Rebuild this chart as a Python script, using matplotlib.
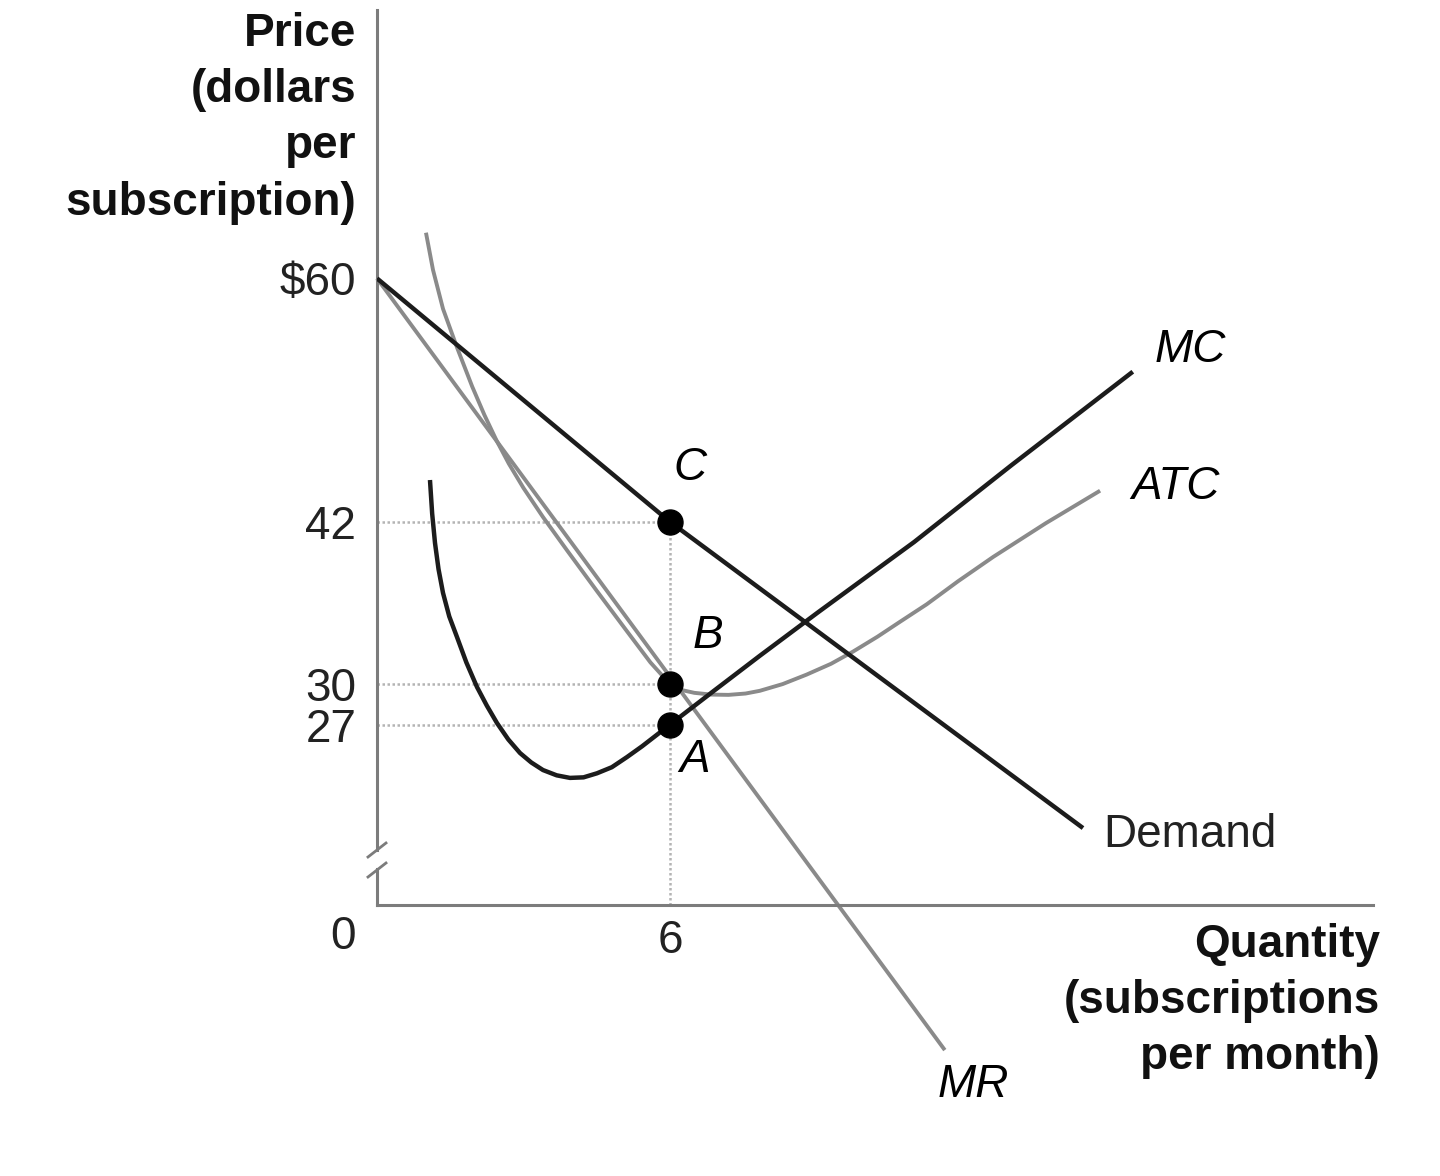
import matplotlib
matplotlib.use("Agg")
import matplotlib.pyplot as plt

W, H = 1440, 1176

# quantity (subscriptions per month) / price (dollars per subscription)
demand_q = [0, 6, 14.46]
demand_p = [60, 42, 19.35]

mr_q = [0, 11.63]
mr_p = [60, 2.93]

mc_q = [1.085, 1.13, 1.188, 1.26, 1.352, 1.48, 1.638, 1.83, 2.048, 2.25, 2.457,
        2.69, 2.929, 3.16, 3.40, 3.68, 3.952, 4.23, 4.505, 4.81, 5.12, 5.43,
        5.734, 6.0, 6.45, 6.9, 7.844, 9.031, 11.0, 13.0, 15.48]
mc_p = [45.09, 42.6, 40.43, 38.5, 36.74, 35.0, 33.48, 31.6, 29.78, 28.4, 27.12,
        25.9, 24.90, 24.2, 23.64, 23.25, 23.06, 23.1, 23.4, 23.85, 24.6, 25.4,
        26.25, 27.0, 28.25, 29.5, 32.1, 35.3, 40.5, 46.2, 53.1]

atc_q = [1.003, 1.147, 1.352, 1.638, 1.95, 2.2, 2.45, 2.7, 3.0, 3.4, 3.9, 4.5,
         5.1, 5.6, 6.0, 6.25, 6.5, 6.85, 7.2, 7.55, 7.84, 8.31, 8.8, 9.3, 9.75,
         10.25, 10.71, 11.26, 11.9, 12.62, 13.7, 14.81]
atc_p = [63.38, 60.63, 57.75, 54.9, 52.0, 49.9, 48.0, 46.3, 44.5, 42.35, 39.85,
         36.9, 34.0, 31.6, 30.0, 29.55, 29.35, 29.22, 29.2, 29.3, 29.5, 30.0,
         30.7, 31.5, 32.4, 33.5, 34.6, 35.9, 37.6, 39.4, 41.9, 44.3]

point_names = ["C", "B", "A"]
point_q = [6, 6, 6]
point_p = [42, 30, 27]

price_ticks = [27, 30, 42, 60]
price_labels = ["27", "30", "42", "$60"]
qty_ticks = [6]
qty_labels = ["6"]

DARK = "#1c1c1c"
GREY = "#8a8a8a"
AXIS = "#7c7c7c"
FONT = "Liberation Sans"
FS = 33

plt.rcParams["font.family"] = FONT


def fx(px):
    return px / W


def fy(py):
    return 1 - py / H


fig = plt.figure(figsize=(W / 100, H / 100), dpi=100)
ax = fig.add_axes([fx(377), fy(905), (1373 - 377) / W, (905 - 10) / H])
ax.set_xlim(0, 20.4)
ax.set_ylim(13.66, 79.85)

# dotted guides to the points
for q, p in zip(point_q, point_p):
    ax.plot([0, q], [p, p], color="#b4b4b4", lw=1.8, ls=(0, (1, 1)), zorder=1)
ax.plot([point_q[0], point_q[0]], [13.66, max(point_p)], color="#b4b4b4",
        lw=1.8, ls=(0, (1, 1)), zorder=1)

# curves
ax.plot(mr_q, mr_p, color=GREY, lw=2.8, clip_on=False, solid_capstyle="butt", zorder=2)
ax.plot(atc_q, atc_p, color=GREY, lw=2.8, solid_capstyle="butt",
        solid_joinstyle="round", zorder=2)
ax.plot(demand_q, demand_p, color=DARK, lw=3.2, solid_capstyle="butt", zorder=3)
ax.plot(mc_q, mc_p, color=DARK, lw=3.2, solid_capstyle="butt",
        solid_joinstyle="round", zorder=3)

ax.plot(point_q, point_p, "o", color="black", ms=18, zorder=4)

# axes and ticks
for s in ["top", "right", "left"]:
    ax.spines[s].set_visible(False)
ax.spines["bottom"].set_color(AXIS)
ax.spines["bottom"].set_linewidth(2.2)

ax.set_yticks(price_ticks)
ax.set_yticklabels(price_labels)
ax.set_xticks(qty_ticks)
ax.set_xticklabels(qty_labels)
ax.tick_params(axis="both", length=0, labelsize=FS, labelcolor="#222222")
ax.tick_params(axis="y", pad=15)
ax.tick_params(axis="x", pad=10)

# y axis with a break near the bottom
ta = ax.transAxes


def ay(py):
    return (905 - py) / 895


def axx(px):
    return (px - 377) / 996


ax.plot([0, 0], [ay(850), 1], color=AXIS, lw=2.2, transform=ta, clip_on=False)
ax.plot([0, 0], [0, ay(869)], color=AXIS, lw=2.2, transform=ta, clip_on=False)
ax.plot([axx(368), axx(386)], [ay(857), ay(843)], color=AXIS, lw=2.0,
        transform=ta, clip_on=False)
ax.plot([axx(368), axx(386)], [ay(877), ay(863)], color=AXIS, lw=2.0,
        transform=ta, clip_on=False)

fig.text(fx(343), fy(937), "0", fontsize=FS, color="#222222", ha="center", va="center")

# axis titles
fig.text(fx(356), fy(12), "Price\n(dollars\nper\nsubscription)", fontsize=FS,
         fontweight="bold", ha="right", va="top", linespacing=1.36, color="#111111")
fig.text(fx(1380), fy(923), "Quantity\n(subscriptions\nper month)", fontsize=FS,
         fontweight="bold", ha="right", va="top", linespacing=1.36, color="#111111")

# curve labels
fig.text(fx(1190), fy(350), "MC", fontsize=FS, style="italic", ha="center", va="center")
fig.text(fx(1175), fy(487), "ATC", fontsize=FS, style="italic", ha="center", va="center")
fig.text(fx(1103), fy(835), "Demand", fontsize=FS, ha="left", va="center", color="#222222")
fig.text(fx(973), fy(1085), "MR", fontsize=FS, style="italic", ha="center", va="center")

point_label_px = [(690, 468), (708, 636), (695, 760)]
for name, (px, py) in zip(point_names, point_label_px):
    fig.text(fx(px), fy(py), name, fontsize=FS, style="italic", ha="center", va="center")

fig.savefig("out.png", dpi=100, facecolor="white")
